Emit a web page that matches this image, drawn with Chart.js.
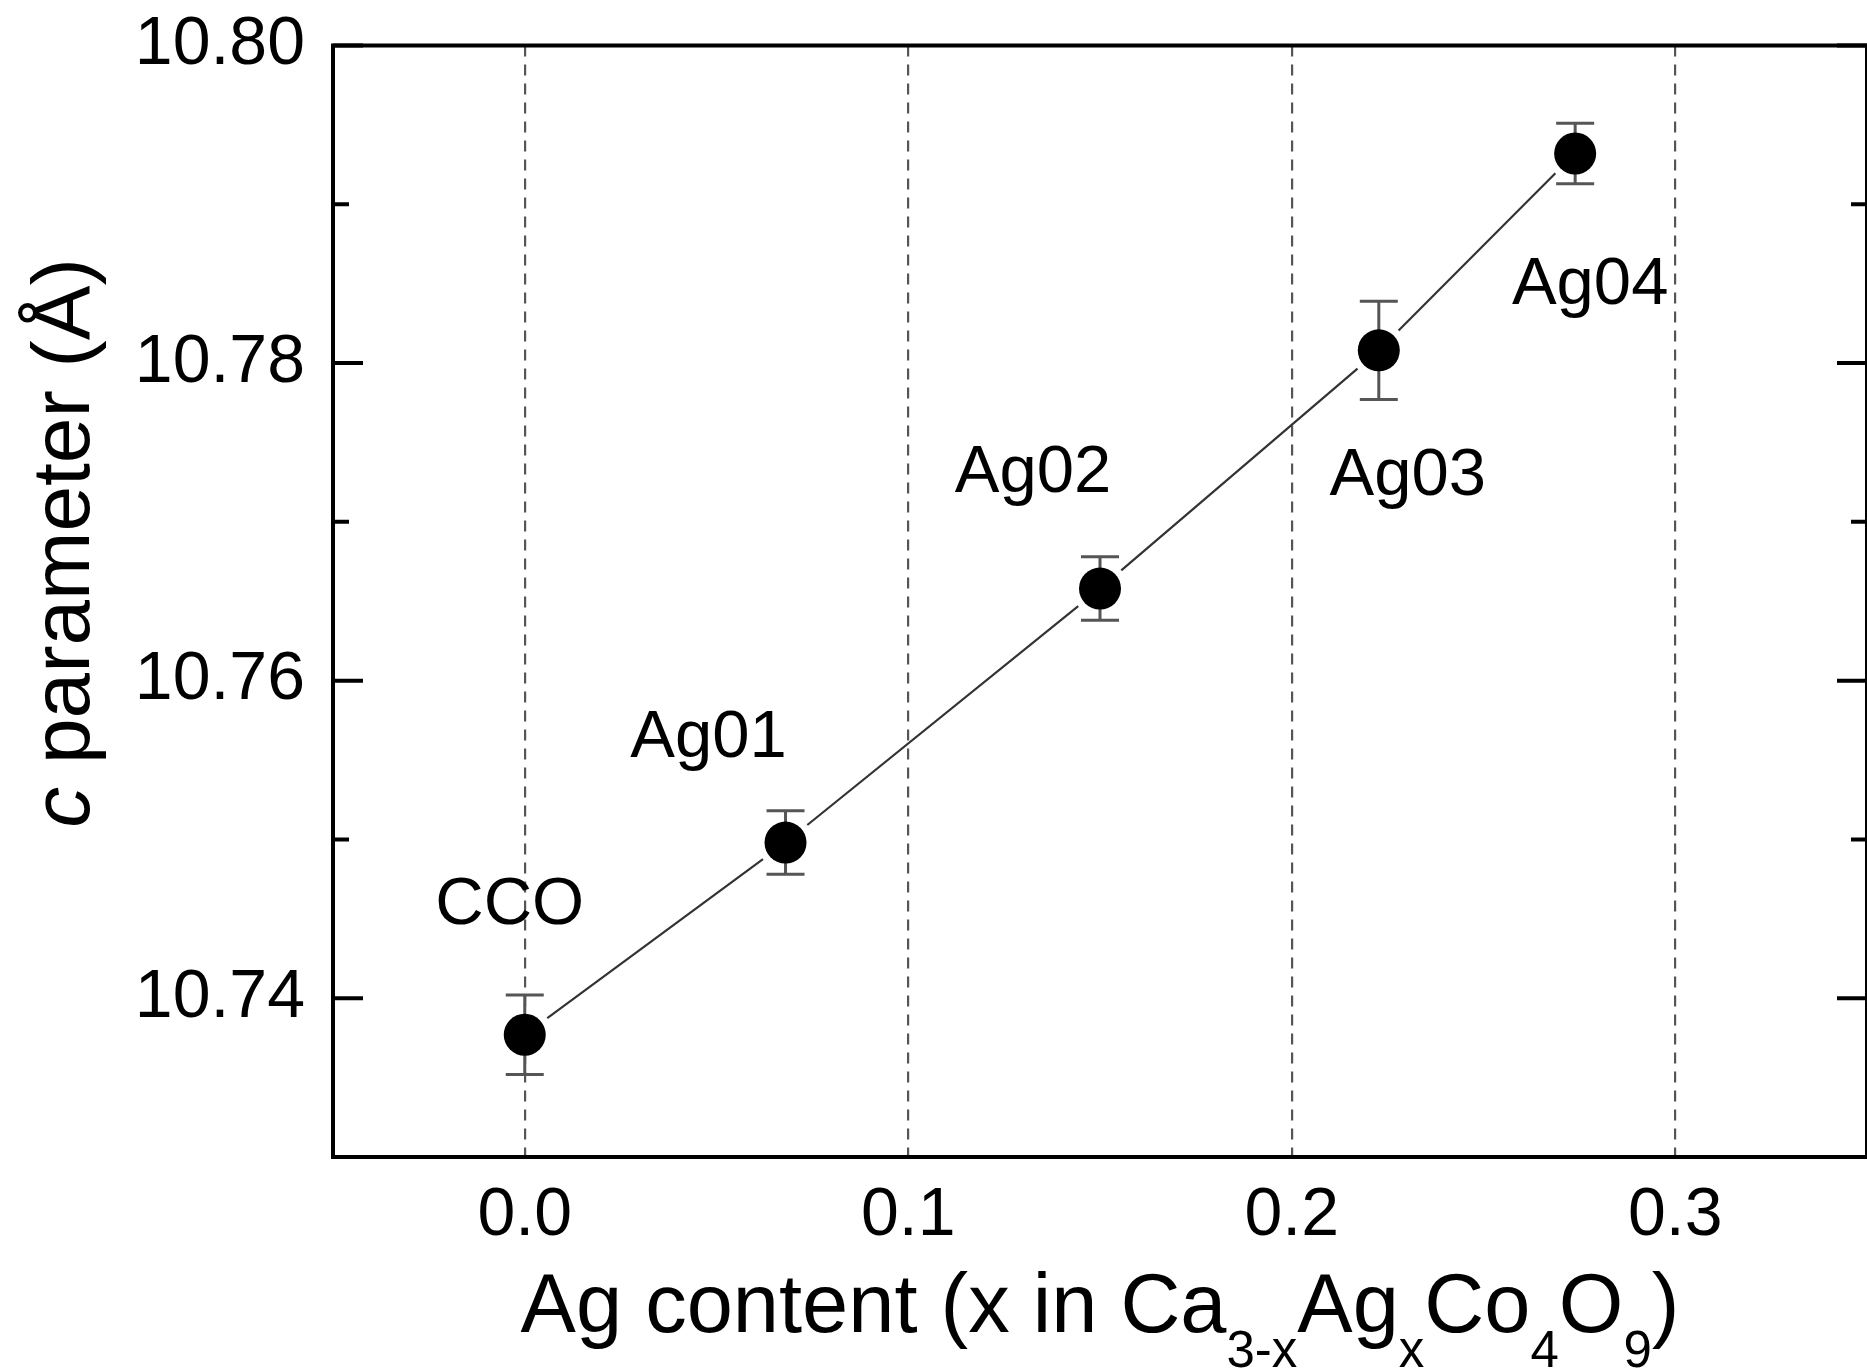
<!DOCTYPE html>
<html>
<head>
<meta charset="utf-8">
<script src="https://cdn.jsdelivr.net/npm/chart.js@4.4.1/dist/chart.umd.min.js"></script>
<style>
  html, body { margin: 0; padding: 0; background: #fff; overflow: hidden; }
  #wrap { width: 1867px; height: 1372px; }
</style>
</head>
<body>
<div id="wrap"><canvas id="latticeChart"></canvas></div>
<script>
// samples: Ag content x and refined c lattice parameter (Å)
const sampleNames = ['CCO', 'Ag01', 'Ag02', 'Ag03', 'Ag04'];
const agContent = [0.0, 0.068, 0.150, 0.2227, 0.2739];
const cParam = [10.7377, 10.7498, 10.7658, 10.7808, 10.7932];
const cError = [0.0025, 0.0020, 0.0020, 0.0031, 0.0019];

const xTicks = [0.0, 0.1, 0.2, 0.3];
const yTicks = [10.74, 10.76, 10.78, 10.80];
const yMinorTicks = [10.75, 10.77, 10.79];

// where each sample name sits, px offset from its point
const labelOffsets = [[-15, -129], [-77, -104], [-67, -115], [29, 126], [15, 132]];

const FONT = '"Liberation Sans", Arial, Helvetica, sans-serif';

// connecting line (stops short of the markers) + error bars, under the points
const connectLine = {
  id: 'connectLine',
  beforeDatasetsDraw(chart) {
    const pts = chart.getDatasetMeta(0).data;
    const ctx = chart.ctx;
    const gap = 28;
    ctx.save();
    ctx.strokeStyle = '#333';
    ctx.lineWidth = 2.2;
    ctx.beginPath();
    for (let i = 0; i < pts.length - 1; i++) {
      const a = pts[i], b = pts[i + 1];
      const dx = b.x - a.x, dy = b.y - a.y;
      const len = Math.hypot(dx, dy);
      const ux = dx / len, uy = dy / len;
      ctx.moveTo(a.x + ux * gap, a.y + uy * gap);
      ctx.lineTo(b.x - ux * gap, b.y - uy * gap);
    }
    ctx.stroke();

    const y = chart.scales.y;
    const cap = 19;
    ctx.strokeStyle = '#555';
    ctx.lineWidth = 3;
    ctx.beginPath();
    pts.forEach((p, i) => {
      const top = y.getPixelForValue(cParam[i] + cError[i]);
      const bot = y.getPixelForValue(cParam[i] - cError[i]);
      ctx.moveTo(p.x, top); ctx.lineTo(p.x, bot);
      ctx.moveTo(p.x - cap, top); ctx.lineTo(p.x + cap, top);
      ctx.moveTo(p.x - cap, bot); ctx.lineTo(p.x + cap, bot);
    });
    ctx.stroke();
    ctx.restore();
  }
};

// frame, inward ticks, sample names and the axis titles
const decorations = {
  id: 'decorations',
  afterDraw(chart) {
    const ctx = chart.ctx;
    const {left, right, top, bottom} = chart.chartArea;
    const y = chart.scales.y;
    ctx.save();

    ctx.strokeStyle = '#000';
    ctx.lineWidth = 4;
    ctx.strokeRect(left, top, right - left, bottom - top);

    ctx.beginPath();
    const tick = (v, len) => {
      const py = y.getPixelForValue(v);
      ctx.moveTo(left, py); ctx.lineTo(left + len, py);
      ctx.moveTo(right, py); ctx.lineTo(right - len, py);
    };
    yTicks.forEach(v => tick(v, 30));
    yMinorTicks.forEach(v => tick(v, 16));
    ctx.stroke();

    // sample names
    const pts = chart.getDatasetMeta(0).data;
    ctx.fillStyle = '#000';
    ctx.font = `67px ${FONT}`;
    ctx.textAlign = 'center';
    ctx.textBaseline = 'middle';
    pts.forEach((p, i) => {
      ctx.fillText(sampleNames[i], p.x + labelOffsets[i][0], p.y + labelOffsets[i][1]);
    });

    // x title with subscripts
    const parts = [
      ['Ag content (x in Ca', false], ['3-x', true], ['Ag', false], ['x', true],
      ['Co', false], ['4', true], ['O', false], ['9', true], [')', false]
    ];
    const mainFont = `83px ${FONT}`;
    const subFont = `51px ${FONT}`;
    let total = 0;
    parts.forEach(([t, sub]) => {
      ctx.font = sub ? subFont : mainFont;
      total += ctx.measureText(t).width;
    });
    let x = (left + right) / 2 - total / 2;
    ctx.textAlign = 'left';
    ctx.textBaseline = 'alphabetic';
    parts.forEach(([t, sub]) => {
      ctx.font = sub ? subFont : mainFont;
      ctx.fillText(t, x, sub ? 1367 : 1332);
      x += ctx.measureText(t).width;
    });

    // y title, italic c
    ctx.translate(89, 543);
    ctx.rotate(-Math.PI / 2);
    const italic = `italic 82px ${FONT}`;
    const plain = `82px ${FONT}`;
    const rest = ' parameter (Å)';
    ctx.font = italic;
    const w1 = ctx.measureText('c').width;
    ctx.font = plain;
    const w2 = ctx.measureText(rest).width;
    const tx = -(w1 + w2) / 2;
    ctx.font = italic;
    ctx.fillText('c', tx, 0);
    ctx.font = plain;
    ctx.fillText(rest, tx + w1, 0);

    ctx.restore();
  }
};

new Chart(document.getElementById('latticeChart'), {
  type: 'scatter',
  data: {
    datasets: [{
      label: 'c parameter',
      data: agContent.map((v, i) => ({x: v, y: cParam[i]})),
      pointRadius: 21,
      pointHoverRadius: 21,
      backgroundColor: '#000',
      borderWidth: 0,
      showLine: false
    }]
  },
  options: {
    responsive: true,
    maintainAspectRatio: false,
    animation: false,
    layout: {autoPadding: false, padding: {top: 45.5, right: -3, bottom: 0, left: 0}},
    plugins: {legend: {display: false}, tooltip: {enabled: false}},
    scales: {
      x: {
        type: 'linear',
        min: -0.05,
        max: 0.35,
        afterBuildTicks: s => { s.ticks = xTicks.map(v => ({value: v})); },
        afterFit: s => { s.height = 215; s.paddingLeft = 0; s.paddingRight = 0; },
        ticks: {
          color: '#000',
          font: {family: FONT, size: 68},
          padding: 18,
          maxRotation: 0,
          autoSkip: false,
          callback: v => v.toFixed(1)
        },
        grid: {color: '#555', lineWidth: 2.2, drawTicks: false},
        border: {display: false, dash: [11, 8]}
      },
      y: {
        type: 'linear',
        min: 10.73,
        max: 10.80,
        afterBuildTicks: s => { s.ticks = yTicks.map(v => ({value: v})); },
        afterFit: s => { s.width = 333; s.paddingTop = 0; s.paddingBottom = 0; },
        ticks: {
          color: '#000',
          font: {family: FONT, size: 68},
          padding: 28,
          callback: v => v.toFixed(2)
        },
        grid: {display: false, drawTicks: false},
        border: {display: false}
      }
    }
  },
  plugins: [connectLine, decorations]
});
</script>
</body>
</html>
